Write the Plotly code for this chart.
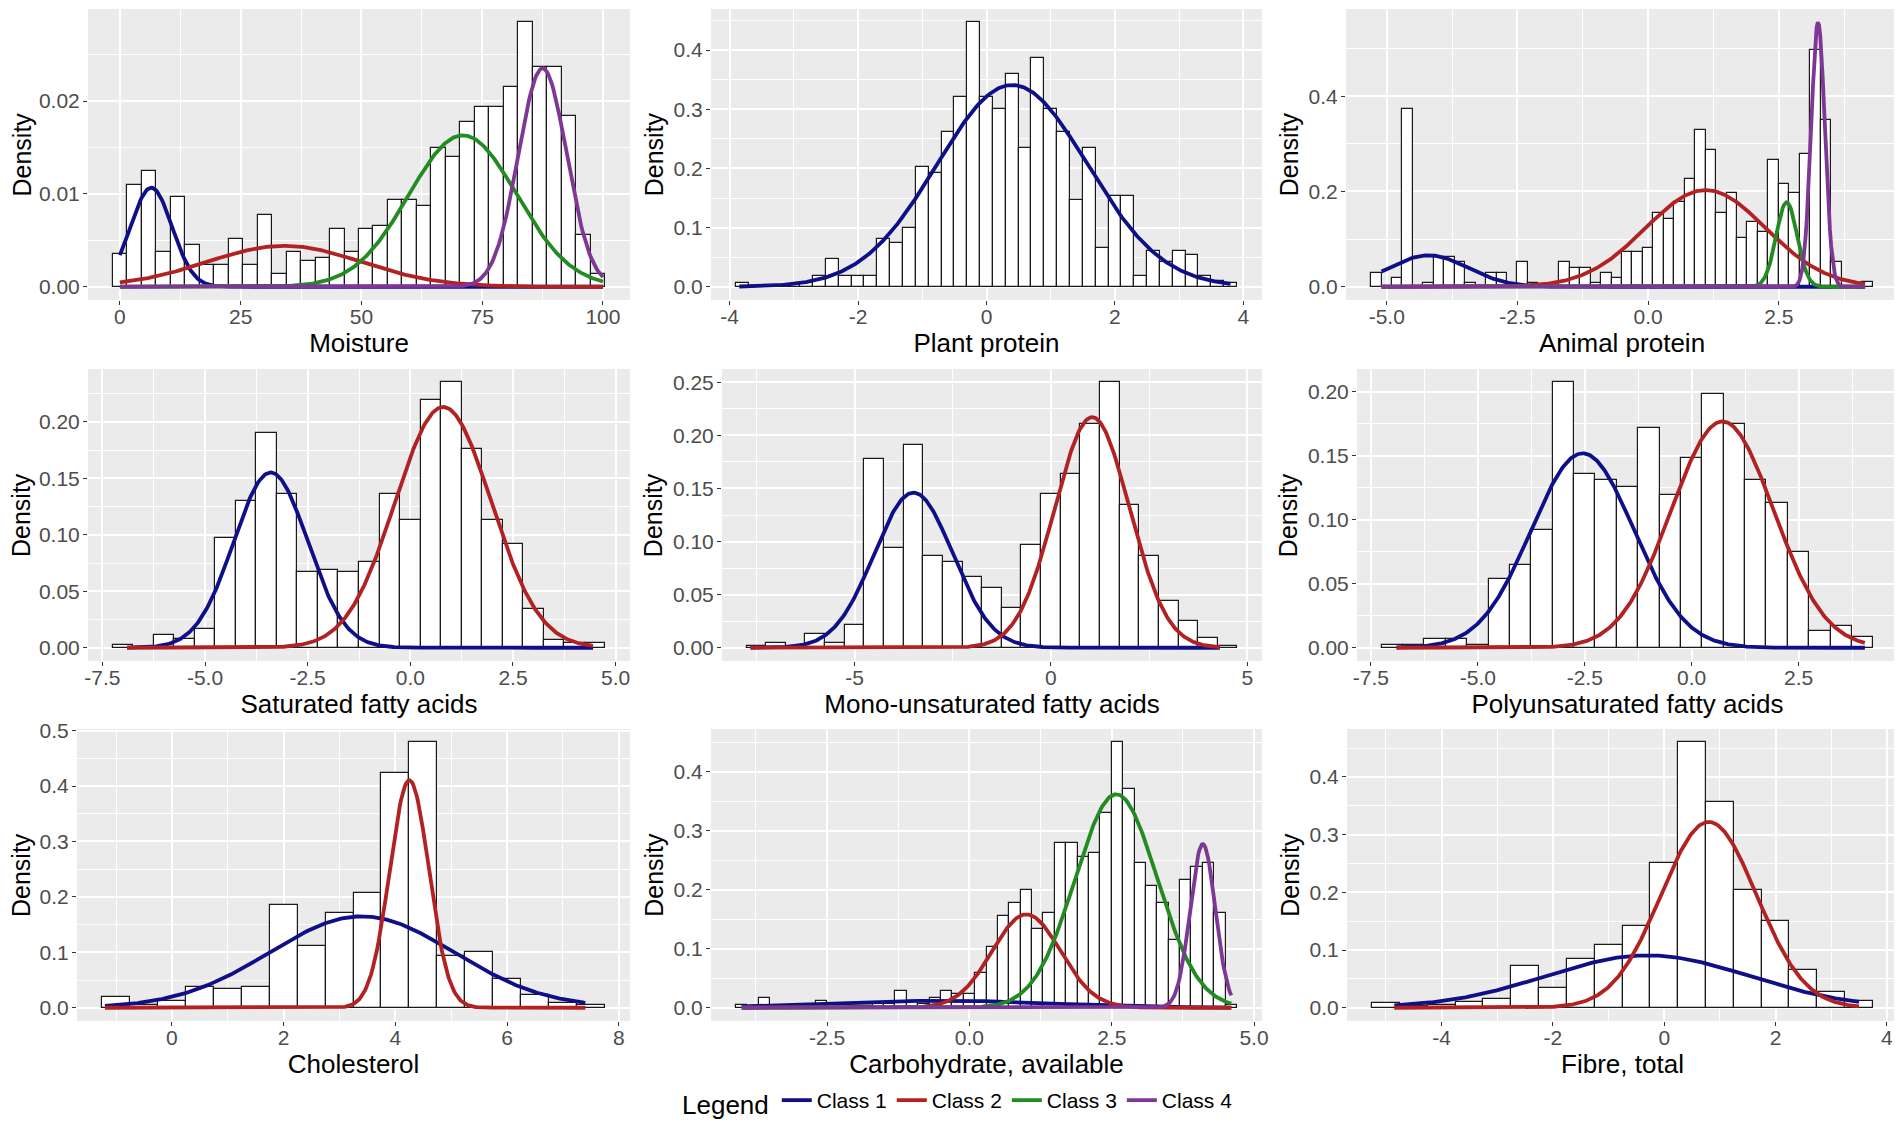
import numpy as np
import plotly.graph_objects as go

# ---- histogram data: first bin edge, bin width, density per bin ----
moisture_start, moisture_bw = -1.5, 3.0
moisture_density = [0.0035, 0.0110, 0.0125, 0.0038, 0.0097, 0.0045, 0.0024, 0.0024,
                    0.0052, 0.0024, 0.0077, 0.0014, 0.0038, 0.0028, 0.0031, 0.0062,
                    0.0038, 0.0062, 0.0066, 0.0094, 0.0094, 0.0087, 0.0150, 0.0140,
                    0.0177, 0.0194, 0.0194, 0.0215, 0.0285, 0.0237, 0.0237, 0.0184,
                    0.0056, 0.0014]

plant_start, plant_bw = -3.9, 0.2
plant_density = [0.007, 0.0, 0.0, 0.0, 0.003, 0.007, 0.019, 0.047, 0.019, 0.019,
                 0.019, 0.081, 0.074, 0.100, 0.202, 0.193, 0.261, 0.320, 0.447, 0.320,
                 0.300, 0.360, 0.234, 0.387, 0.300, 0.261, 0.147, 0.234, 0.066, 0.153,
                 0.153, 0.019, 0.060, 0.042, 0.060, 0.053, 0.019, 0.009, 0.007]

animal_start, animal_bw = -5.3, 0.2
animal_density = [0.028, 0.0, 0.019, 0.374, 0.0, 0.0085, 0.063, 0.063, 0.052, 0.0085,
                  0.0, 0.029, 0.029, 0.0, 0.051, 0.008, 0.0, 0.0, 0.051, 0.040,
                  0.040, 0.0085, 0.029, 0.019, 0.072, 0.072, 0.082, 0.154, 0.143, 0.177,
                  0.227, 0.330, 0.288, 0.154, 0.196, 0.103, 0.135, 0.114, 0.267, 0.215,
                  0.196, 0.278, 0.496, 0.350, 0.052, 0.0, 0.0, 0.010]

satfat_start, satfat_bw = -7.25, 0.5
satfat_density = [0.002, 0.0, 0.011, 0.008, 0.017, 0.097, 0.130, 0.190, 0.136, 0.067,
                  0.069, 0.067, 0.076, 0.136, 0.113, 0.219, 0.235, 0.176, 0.113, 0.092,
                  0.034, 0.007, 0.004, 0.004]

monofat_start, monofat_bw = -7.75, 0.5
monofat_density = [0.0016, 0.004, 0.002, 0.0125, 0.004, 0.021, 0.178, 0.094, 0.191, 0.086,
                   0.081, 0.067, 0.056, 0.037, 0.0965, 0.145, 0.164, 0.211, 0.250, 0.134,
                   0.086, 0.044, 0.025, 0.009, 0.0016]

polyfat_start, polyfat_bw = -7.25, 0.5
polyfat_density = [0.002, 0.002, 0.007, 0.007, 0.002, 0.054, 0.065, 0.092, 0.2075, 0.136,
                   0.1315, 0.1255, 0.1716, 0.119, 0.1487, 0.1984, 0.175, 0.1315, 0.113, 0.075,
                   0.0128, 0.017, 0.008]

chol_start, chol_bw = -1.25, 0.5
chol_density = [0.0187, 0.005, 0.013, 0.037, 0.033, 0.038, 0.185, 0.111, 0.171, 0.2076,
                0.424, 0.479, 0.0927, 0.101, 0.051, 0.0235, 0.009, 0.005]

carb_start, carb_bw = -4.1, 0.2
carb_density = [0.005, 0.0, 0.017, 0.003, 0.0, 0.003, 0.003, 0.012, 0.006, 0.006,
                0.003, 0.003, 0.006, 0.006, 0.029, 0.012, 0.006, 0.017, 0.029, 0.023,
                0.024, 0.059, 0.103, 0.155, 0.177, 0.200, 0.133, 0.160, 0.280, 0.280,
                0.256, 0.263, 0.330, 0.450, 0.371, 0.245, 0.206, 0.178, 0.115, 0.216,
                0.239, 0.245, 0.160, 0.005]

fibre_start, fibre_bw = -5.25, 0.5
fibre_density = [0.008, 0.003, 0.005, 0.010, 0.015, 0.073, 0.034, 0.085, 0.109, 0.1416,
                 0.2514, 0.460, 0.3566, 0.2046, 0.150, 0.0647, 0.028, 0.0116]

# ---- fitted mixture components: class id, weight, mean, sd; x span of the curves ----
moisture_cls = [1, 2, 3, 4]
moisture_w = [0.115, 0.177, 0.458, 0.295]
moisture_mu = [6.5, 34.0, 71.0, 87.5]
moisture_sd = [4.3, 16.0, 11.2, 5.0]
moisture_span = [0.0, 100.0]

plant_cls = [1]
plant_w = [1.0]
plant_mu = [0.4]
plant_sd = [1.17]
plant_span = [-3.85, 3.8]

animal_cls = [1, 2, 3, 4]
animal_w = [0.124, 0.585, 0.089, 0.181]
animal_mu = [-4.2, 1.1, 2.65, 3.25]
animal_sd = [0.75, 1.15, 0.2, 0.13]
animal_span = [-5.1, 4.15]

satfat_cls = [1, 2]
satfat_w = [0.35, 0.625]
satfat_mu = [-3.4, 0.8]
satfat_sd = [0.9, 1.17]
satfat_span = [-6.9, 4.45]

monofat_cls = [1, 2]
monofat_w = [0.366, 0.517]
monofat_mu = [-3.5, 1.05]
monofat_sd = [1.0, 0.95]
monofat_span = [-7.65, 4.3]

polyfat_cls = [1, 2]
polyfat_w = [0.457, 0.532]
polyfat_mu = [-2.55, 0.72]
polyfat_sd = [1.2, 1.2]
polyfat_span = [-6.9, 4.05]

chol_cls = [1, 2]
chol_w = [0.682, 0.36]
chol_mu = [3.4, 4.25]
chol_sd = [1.65, 0.35]
chol_span = [-1.2, 7.4]

carb_cls = [1, 2, 3, 4]
carb_w = [0.057, 0.238, 0.653, 0.153]
carb_mu = [-0.5, 1.0, 2.58, 4.1]
carb_sd = [1.9, 0.6, 0.72, 0.22]
carb_span = [-4.0, 4.6]

fibre_cls = [1, 2]
fibre_w = [0.414, 0.694]
fibre_mu = [-0.3, 0.8]
fibre_sd = [1.82, 0.86]
fibre_span = [-4.85, 3.5]

# ---- axis labels and ticks ----
x_titles = ['Moisture', 'Plant protein', 'Animal protein',
            'Saturated fatty acids', 'Mono-unsaturated fatty acids', 'Polyunsaturated fatty acids',
            'Cholesterol', 'Carbohydrate, available', 'Fibre, total']
x_ticks = [[0, 25, 50, 75, 100], [-4, -2, 0, 2, 4], [-5, -2.5, 0, 2.5],
           [-7.5, -5, -2.5, 0, 2.5, 5], [-5, 0, 5], [-7.5, -5, -2.5, 0, 2.5],
           [0, 2, 4, 6, 8], [-2.5, 0, 2.5, 5], [-4, -2, 0, 2, 4]]
x_decimals = [0, 0, 1, 1, 0, 1, 0, 1, 0]
y_ticks = [[0, 0.01, 0.02], [0, 0.1, 0.2, 0.3, 0.4], [0, 0.2, 0.4],
           [0, 0.05, 0.10, 0.15, 0.20], [0, 0.05, 0.10, 0.15, 0.20, 0.25],
           [0, 0.05, 0.10, 0.15, 0.20], [0, 0.1, 0.2, 0.3, 0.4, 0.5],
           [0, 0.1, 0.2, 0.3, 0.4], [0, 0.1, 0.2, 0.3, 0.4]]
y_decimals = [2, 1, 1, 2, 2, 2, 1, 1, 1]
y_title = 'Density'

class_names = {1: 'Class 1', 2: 'Class 2', 3: 'Class 3', 4: 'Class 4'}
class_colors = {1: '#0F0F8A', 2: '#B22222', 3: '#228B22', 4: '#7E3794'}

hists = [(moisture_start, moisture_bw, moisture_density),
         (plant_start, plant_bw, plant_density),
         (animal_start, animal_bw, animal_density),
         (satfat_start, satfat_bw, satfat_density),
         (monofat_start, monofat_bw, monofat_density),
         (polyfat_start, polyfat_bw, polyfat_density),
         (chol_start, chol_bw, chol_density),
         (carb_start, carb_bw, carb_density),
         (fibre_start, fibre_bw, fibre_density)]
comps = [(moisture_cls, moisture_w, moisture_mu, moisture_sd, moisture_span),
         (plant_cls, plant_w, plant_mu, plant_sd, plant_span),
         (animal_cls, animal_w, animal_mu, animal_sd, animal_span),
         (satfat_cls, satfat_w, satfat_mu, satfat_sd, satfat_span),
         (monofat_cls, monofat_w, monofat_mu, monofat_sd, monofat_span),
         (polyfat_cls, polyfat_w, polyfat_mu, polyfat_sd, polyfat_span),
         (chol_cls, chol_w, chol_mu, chol_sd, chol_span),
         (carb_cls, carb_w, carb_mu, carb_sd, carb_span),
         (fibre_cls, fibre_w, fibre_mu, fibre_sd, fibre_span)]

# panel plot areas in pixels (left, right) and rows (top, bottom)
W, H = 1902, 1121
cols_px = [(80, 622), (703, 1254), (1338, 1890),
           (80, 622), (714, 1254), (1349, 1890),
           (69, 622), (703, 1254), (1339, 1890)]
rows_px = [(1, 292), (361, 653), (721, 1013)]

FONT = 'Arial, Liberation Sans, sans-serif'
TICK_SIZE = 21
fig = go.Figure()


def minor_vals(ticks, lo, hi):
    step = ticks[1] - ticks[0]
    mids = [ticks[0] - step / 2] + [t + step / 2 for t in ticks]
    return [m for m in mids if lo <= m <= hi]


def label_width(txt):
    # rough Arial advance widths
    return sum(0.278 if ch == '.' else 0.556 for ch in txt) * TICK_SIZE


for i in range(9):
    n = i + 1
    xa, ya = f'x{n}', f'y{n}'
    start, bw, dens = hists[i]
    edges = start + bw * np.arange(len(dens) + 1)
    centers = (edges[:-1] + edges[1:]) / 2
    fig.add_trace(go.Bar(x=centers, y=dens, width=bw, xaxis=xa, yaxis=ya,
                         marker=dict(color='white', line=dict(color='#1A1A1A', width=1.2)),
                         showlegend=False, hoverinfo='skip'))

    cls, ws, mus, sds, span = comps[i]
    xs = np.linspace(span[0], span[1], 400)
    ymax = max(dens)
    for c, w, mu, sd in zip(cls, ws, mus, sds):
        ys = w * np.exp(-0.5 * ((xs - mu) / sd) ** 2) / (sd * np.sqrt(2 * np.pi))
        ymax = max(ymax, ys.max())
        fig.add_trace(go.Scatter(x=xs, y=ys, mode='lines', xaxis=xa, yaxis=ya,
                                 line=dict(color=class_colors[c], width=3.8),
                                 name=class_names[c], legendgroup=class_names[c],
                                 showlegend=(i == 0), hoverinfo='skip'))

    lo, hi = min(edges[0], span[0]), max(edges[-1], span[1])
    pad = 0.05 * (hi - lo)
    xr = [lo - pad, hi + pad]
    yr = [-0.05 * ymax, 1.05 * ymax]

    l, r = cols_px[i]
    t, b = rows_px[i // 3]
    xt = x_ticks[i]
    yt = y_ticks[i]
    ytext = [f'{v:.{y_decimals[i]}f}' for v in yt]
    fig.layout[f'xaxis{n}'] = dict(
        domain=[l / W, r / W], anchor=ya, range=xr,
        tickmode='array', tickvals=xt,
        ticktext=[f'{v:.{x_decimals[i]}f}' for v in xt],
        ticks='outside', ticklen=4, tickcolor='#333333', tickwidth=1.1,
        ticklabelstandoff=-6,
        tickfont=dict(size=TICK_SIZE, color='#4D4D4D', family=FONT),
        showgrid=True, gridcolor='white', gridwidth=1.6, zeroline=False,
        minor=dict(tickvals=minor_vals(xt, xr[0], xr[1]), showgrid=True,
                   gridcolor='white', gridwidth=0.8, ticks=''),
        title=dict(text=x_titles[i], font=dict(size=26, color='black', family=FONT), standoff=3),
        automargin=False, showline=False)
    fig.layout[f'yaxis{n}'] = dict(
        domain=[1 - b / H, 1 - t / H], anchor=xa, range=yr,
        tickmode='array', tickvals=yt, ticktext=ytext,
        ticks='outside', ticklen=4, tickcolor='#333333', tickwidth=1.1,
        ticklabelstandoff=-1,
        tickfont=dict(size=TICK_SIZE, color='#4D4D4D', family=FONT),
        showgrid=True, gridcolor='white', gridwidth=1.6, zeroline=False,
        minor=dict(tickvals=minor_vals(yt, yr[0], yr[1]), showgrid=True,
                   gridcolor='white', gridwidth=0.8, ticks=''),
        automargin=False, showline=False)

    # y title placed left of the widest tick label
    tx = max(l - 7 - max(label_width(s) for s in ytext) - 21, 13)
    fig.add_annotation(text=y_title, xref='paper', yref='paper', x=tx / W, y=1 - (t + b) / 2 / H,
                       xanchor='center', yanchor='middle', textangle=-90, showarrow=False,
                       font=dict(size=25, color='black', family=FONT))

fig.update_layout(
    width=W, height=H,
    margin=dict(l=0, r=0, t=0, b=0),
    paper_bgcolor='white', plot_bgcolor='#EBEBEB',
    barmode='overlay', bargap=0,
    font=dict(family=FONT),
    legend=dict(orientation='h', x=0.5, xanchor='center', y=1 - 1094 / H, yanchor='middle',
                title=dict(text='Legend', font=dict(size=26, color='black'), side='left'),
                font=dict(size=21, color='black'), itemwidth=30,
                bgcolor='rgba(0,0,0,0)'),
)

fig.write_html('out.html')
